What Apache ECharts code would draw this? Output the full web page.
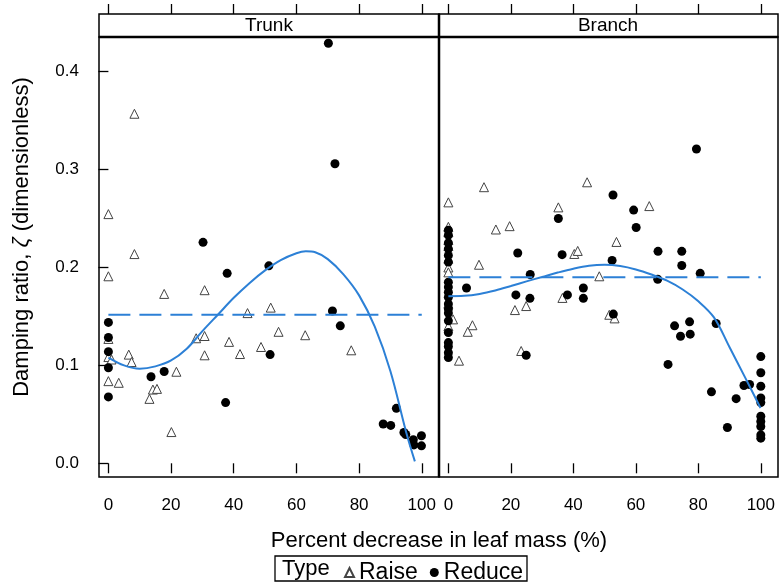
<!DOCTYPE html>
<html><head><meta charset="utf-8">
<script src="https://cdn.jsdelivr.net/npm/echarts@6/dist/echarts.min.js"></script>
<style>html,body{margin:0;padding:0;background:#fff}#c{width:782px;height:584px}</style>
</head><body><div id="c"></div>
<script>
const panels = ['Trunk', 'Branch'];
const xTicks = [0, 20, 40, 60, 80, 100];
const yTicks = [0, 0.1, 0.2, 0.3, 0.4];

const trunkRaise = [[8.3,0.357],[0,0.2545],[8.3,0.2137],[0,0.191],[17.8,0.173],[30.7,0.1768],[51.8,0.159],[44.4,0.1534],[0,0.127],[28.0,0.1277],[30.7,0.130],[54.3,0.1343],[62.8,0.1308],[38.5,0.124],[42.0,0.1116],[48.7,0.1188],[30.7,0.1103],[77.5,0.1154],[0,0.1085],[1,0.106],[6.5,0.111],[7.4,0.1034],[21.7,0.0935],[0,0.0839],[3.3,0.0822],[14.2,0.0753],[15.5,0.076],[13.1,0.0658],[20.1,0.0319]];
const trunkReduce = [[70.2,0.429],[72.3,0.306],[30.2,0.2257],[37.9,0.194],[51.2,0.2017],[0,0.1439],[71.5,0.1555],[74.0,0.1404],[0,0.1285],[51.6,0.111],[0,0.114],[0,0.0976],[13.6,0.0884],[17.8,0.0938],[0,0.0678],[37.4,0.062],[91.9,0.0561],[87.7,0.0401],[90.1,0.0387],[94.3,0.0315],[94.9,0.0294],[97.3,0.024],[97.5,0.0188],[99.9,0.0281],[99.9,0.0178]];
const branchRaise = [[11.4,0.282],[44.4,0.287],[0,0.2665],[35.2,0.2614],[64.3,0.2627],[15.2,0.2388],[19.6,0.2422],[53.8,0.2261],[40.3,0.2138],[41.4,0.2169],[9.8,0.2028],[48.3,0.191],[36.5,0.1689],[24.9,0.1606],[21.3,0.1565],[51.5,0.1517],[53.2,0.148],[7.7,0.141],[6.2,0.1343],[1.5,0.147],[23.3,0.1147],[3.4,0.1048],[0,0.2415],[0,0.236],[0,0.228],[0,0.222],[0,0.209],[0,0.200],[0,0.195],[0,0.163],[0,0.140]];
const branchReduce = [[79.4,0.321],[52.7,0.274],[35.2,0.250],[59.3,0.2586],[60.1,0.2408],[22.2,0.2148],[36.4,0.2131],[67.1,0.2165],[74.7,0.2165],[52.4,0.2072],[74.7,0.202],[80.6,0.194],[26.2,0.1928],[67.0,0.188],[5.8,0.179],[43.2,0.179],[21.6,0.172],[26.1,0.1685],[38.1,0.172],[43.2,0.1685],[52.8,0.1524],[72.4,0.1404],[77.2,0.1445],[74.3,0.1298],[77.4,0.1319],[85.7,0.1428],[24.9,0.1103],[70.3,0.101],[84.2,0.073],[92.1,0.066],[94.6,0.0794],[96.4,0.0805],[89.3,0.0366],[100,0.109],[100,0.0925],[100,0.0787],[100,0.0668],[100,0.062],[100,0.048],[100,0.0428],[100,0.0376],[100,0.029],[100,0.0257],[0,0.238],[0,0.233],[0,0.225],[0,0.219],[0,0.2123],[0,0.2055],[0,0.185],[0,0.180],[0,0.1747],[0,0.1696],[0,0.1627],[0,0.1576],[0,0.1534],[0,0.1455],[0,0.1336],[0,0.1233],[0,0.1193],[0,0.113],[0,0.108]];

const trunkFit = [[0,0.108],[5,0.1],[10,0.0966],[15,0.099],[20,0.105],[25,0.117],[30,0.135],[35,0.152],[40,0.169],[45,0.184],[50,0.197],[55,0.2075],[60,0.2145],[63,0.2165],[66,0.2155],[70,0.2085],[75,0.193],[80,0.1715],[85,0.1395],[90,0.094],[95,0.032],[97.8,0.002]];
const branchFit = [[0,0.1706],[5,0.171],[10,0.173],[15,0.1765],[20,0.181],[25,0.1858],[30,0.1903],[35,0.1948],[40,0.1988],[45,0.2018],[50,0.2028],[55,0.2015],[60,0.198],[65,0.1928],[70,0.1865],[75,0.1775],[80,0.1655],[85,0.149],[90,0.1185],[95,0.0875],[99.9,0.0565]];
const trunkMean = [[0,0.1517],[100,0.1517]];
const branchMean = [[0,0.190],[100,0.190]];

const FONT = 'Liberation Sans, Arial, sans-serif';
const BLUE = '#2c80d6';
const G = [{left:99, w:340}, {left:439, w:339}];
const TOP = 37, H = 440;

const chart = echarts.init(document.getElementById('c'), null, {renderer:'canvas'});

function xAx(i, top) {
  return {
    type:'value', gridIndex:i, min:-3, max:105.5, position: top ? 'top' : 'bottom',
    offset: top ? 23 : 0,
    axisLine:{show:false}, splitLine:{show:false},
    axisTick:{show:true, customValues:xTicks, length:10, inside:false, lineStyle:{color:'#000', width:1.3}},
    axisLabel:{show:!top, customValues:xTicks, margin:20, fontSize:17, color:'#000', fontFamily:FONT}
  };
}
function yAx(i) {
  return {
    type:'value', gridIndex:i, min:-0.014, max:0.4354,
    axisLine:{show:false}, splitLine:{show:false},
    axisTick:{show:i===0, customValues:yTicks, length:10, lineStyle:{color:'#000', width:1.3}},
    axisLabel:{show:i===0, customValues:yTicks, margin:20, fontSize:17, color:'#000', fontFamily:FONT,
      formatter:v=>v.toFixed(1)}
  };
}
const raiseStyle = {color:'#fff', borderColor:'#444', borderWidth:1, opacity:1};
const reduceStyle = {color:'#000', opacity:1};
function scat(name, data, i, raise) {
  return {type:'scatter', name, data, xAxisIndex:i, yAxisIndex:i,
    symbol: raise ? 'triangle' : 'circle', symbolSize: 9,
    itemStyle: raise ? raiseStyle : reduceStyle, z: raise ? 3 : 4};
}
function line(data, i, dashed) {
  return {type:'line', data, xAxisIndex:i, yAxisIndex:i, smooth: dashed ? false : 0.35, showSymbol:false, symbol:'none',
    lineStyle:{color:BLUE, width:2, type: dashed ? [22,9] : 'solid'}, z:5, silent:true};
}

const option = {
  backgroundColor:'#fff',
  animation:false,
  textStyle:{fontFamily:FONT},
  grid: G.map(g => ({left:g.left, top:TOP, width:g.w, height:H, show:true, borderColor:'#000', borderWidth:1.5, backgroundColor:'#fff'})),
  xAxis:[xAx(0,false), xAx(1,false), xAx(0,true), xAx(1,true)],
  yAxis:[yAx(0), yAx(1)],
  legend:{
    data:[{name:'Raise', icon:'triangle'}, {name:'Reduce', icon:'circle'}],
    left:339, top:556, itemWidth:9, itemHeight:9, itemGap:12,
    textStyle:{fontSize:23, color:'#000', fontFamily:FONT},
    selectedMode:false
  },
  series:[
    scat('Raise', trunkRaise, 0, true),
    scat('Reduce', trunkReduce, 0, false),
    scat('Raise', branchRaise, 1, true),
    scat('Reduce', branchReduce, 1, false),
    line(trunkMean, 0, true),
    line(trunkFit, 0, false),
    line(branchMean, 1, true),
    line(branchFit, 1, false)
  ],
  graphic:[
    {type:'rect', shape:{x:99, y:14, width:340, height:23}, style:{fill:'#fff', stroke:'#000', lineWidth:1.5}},
    {type:'rect', shape:{x:439, y:14, width:339, height:23}, style:{fill:'#fff', stroke:'#000', lineWidth:1.5}},
    {type:'text', x:269, y:26, style:{text:panels[0], font:'19px '+FONT, fill:'#000', textAlign:'center', textVerticalAlign:'middle'}},
    {type:'text', x:608, y:26, style:{text:panels[1], font:'19px '+FONT, fill:'#000', textAlign:'center', textVerticalAlign:'middle'}},
    {type:'line', shape:{x1:99, y1:37, x2:778, y2:37}, style:{stroke:'#000', lineWidth:2.5}, z:100},
    {type:'line', shape:{x1:439, y1:14, x2:439, y2:477}, style:{stroke:'#000', lineWidth:2.5}, z:100},
    {type:'text', x:22, y:237, rotation:Math.PI/2, style:{text:'Damping ratio, {i|ζ} (dimensionless)', font:'22px '+FONT, fill:'#000', textAlign:'center', textVerticalAlign:'middle', rich:{i:{fontStyle:'italic', fontSize:22, fontFamily:FONT}}}},
    {type:'text', x:439, y:541, style:{text:'Percent decrease in leaf mass (%)', font:'22px '+FONT, fill:'#000', textAlign:'center', textVerticalAlign:'middle'}},
    {type:'rect', shape:{x:275, y:556, width:252, height:25}, style:{fill:'none', stroke:'#000', lineWidth:1.3}},
    {type:'text', x:282, y:569, style:{text:'Type', font:'22px '+FONT, fill:'#000', textVerticalAlign:'middle'}}
  ]
};
chart.setOption(option);
</script></body></html>
